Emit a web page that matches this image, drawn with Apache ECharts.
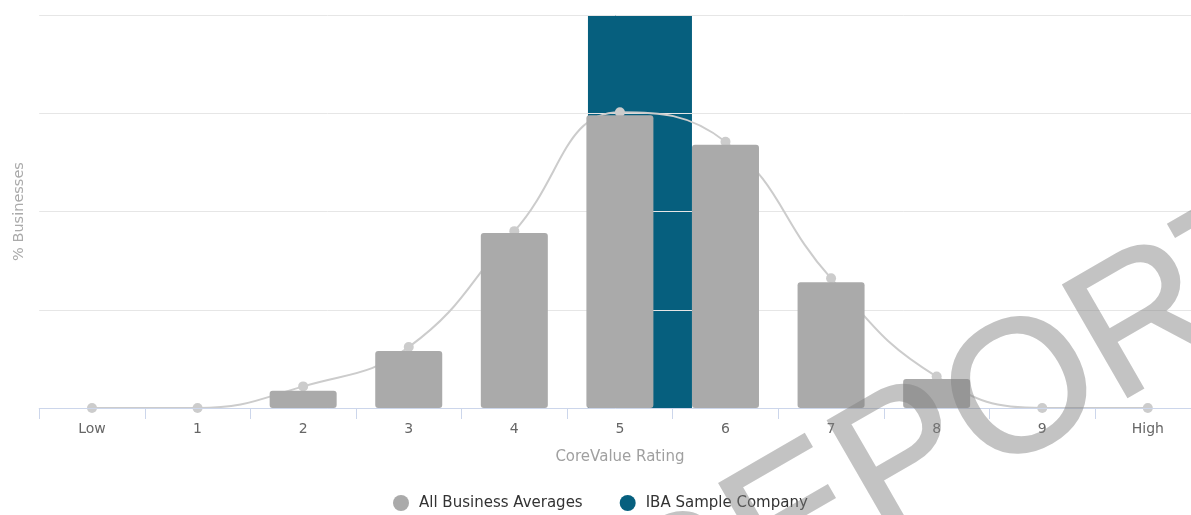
<!DOCTYPE html>
<html>
<head>
<meta charset="utf-8">
<script src="https://cdn.jsdelivr.net/npm/echarts@6/dist/echarts.min.js"></script>
<style>
  html, body { margin: 0; padding: 0; background: #ffffff; }
  #chart { width: 1191px; height: 515px; }
</style>
</head>
<body>
<div id="chart"></div>
<script>
// ---- Data ----
const categories = ['Low', '1', '2', '3', '4', '5', '6', '7', '8', '9', 'High'];
// % of businesses per rating (bars)
const averageBars = [0, 0, 1.75, 5.8, 17.8, 29.8, 26.8, 12.8, 2.95, 0, 0];
// smoothed distribution curve through the averages
const averageCurve = [0, 0, 2.2, 6.2, 18.0, 30.1, 27.1, 13.2, 3.2, 0, 0];
// sample company: its rating position and its share (runs off the top of the axis)
const companyRating = [5.19];
const companyShare = [100];
const yTicks = [0, 10, 20, 30, 40];

const seriesNames = ['All Business Averages', 'IBA Sample Company'];
const watermarkText = 'REPORT';

const FONT = '"DejaVu Sans", Verdana, sans-serif';

const chart = echarts.init(document.getElementById('chart'), null, { renderer: 'canvas' });

const option = {
  animation: false,
  backgroundColor: '#ffffff',
  textStyle: { fontFamily: FONT },
  grid: { left: 39.2, top: 15, right: -9.6, bottom: 107, containLabel: false, outerBoundsMode: 'none' },
  legend: {
    data: [
      { name: seriesNames[0], icon: 'circle', itemStyle: { color: '#aaaaaa' } },
      { name: seriesNames[1], icon: 'circle', itemStyle: { color: '#065f7e' } }
    ],
    left: 393,
    top: 495,
    itemWidth: 16,
    itemHeight: 16,
    itemGap: 37,
    padding: 0,
    textStyle: { fontSize: 15, color: '#333333', fontFamily: FONT, padding: [0, 0, 0, 5] }
  },
  xAxis: [
    {
      type: 'category',
      data: categories,
      boundaryGap: true,
      z: 3,
      name: 'CoreValue Rating',
      nameLocation: 'middle',
      nameGap: 42,
      nameTextStyle: { color: '#a0a0a0', fontSize: 15, fontFamily: FONT },
      axisLine: { show: true, lineStyle: { color: '#ccd6eb', width: 1 } },
      axisTick: { show: true, length: 11, lineStyle: { color: '#ccd6eb' } },
      axisLabel: { color: '#666666', fontSize: 14, margin: 14, fontFamily: FONT },
      splitLine: { show: false }
    },
    {
      type: 'value',
      min: -0.5,
      max: 10.5,
      show: false,
      splitLine: { show: false }
    }
  ],
  yAxis: {
    type: 'value',
    min: yTicks[0],
    max: yTicks[yTicks.length - 1],
    interval: 10,
    z: 1,
    name: '% Businesses',
    nameLocation: 'middle',
    nameGap: 12,
    nameTextStyle: { color: '#aaaaaa', fontSize: 14.5, fontFamily: FONT },
    axisLine: { show: false },
    axisTick: { show: false },
    axisLabel: { show: false },
    splitLine: { show: true, lineStyle: { color: '#e6e6e6', width: 1 } }
  },
  series: [
    {
      name: seriesNames[1],
      type: 'bar',
      xAxisIndex: 1,
      z: 0,
      barWidth: 104,
      clip: true,
      itemStyle: { color: '#065f7e' },
      data: companyRating.map((r, i) => [r, companyShare[i]])
    },
    {
      name: seriesNames[0] + ' curve',
      type: 'line',
      z: 2,
      smooth: 0.45,
      symbol: 'circle',
      symbolSize: 10,
      itemStyle: { color: '#cccccc' },
      lineStyle: { color: '#cccccc', width: 2 },
      data: averageCurve
    },
    {
      name: seriesNames[0],
      type: 'bar',
      z: 4,
      barWidth: 67,
      itemStyle: { color: '#aaaaaa', borderRadius: 3 },
      data: averageBars
    }
  ],
  graphic: [
    {
      type: 'text',
      zlevel: 1,
      z: 100,
      x: 965,
      y: 431,
      rotation: Math.PI / 6,
      silent: true,
      style: {
        text: watermarkText,
        font: '188px "Liberation Sans", Arial, sans-serif',
        fill: '#808080',
        stroke: '#808080',
        lineWidth: 2,
        textAlign: 'center',
        textVerticalAlign: 'middle'
      }
    }
  ]
};

chart.setOption(option);
// the watermark layer is drawn translucent as a whole
const zr = chart.getZr();
zr.refreshImmediately();
try {
  const layer = zr.painter.getLayer(1);
  if (layer && layer.dom) layer.dom.style.opacity = '0.47';
} catch (e) {
  const canvases = document.querySelectorAll('#chart canvas');
  if (canvases.length > 1) canvases[canvases.length - 1].style.opacity = '0.47';
}
</script>
</body>
</html>
